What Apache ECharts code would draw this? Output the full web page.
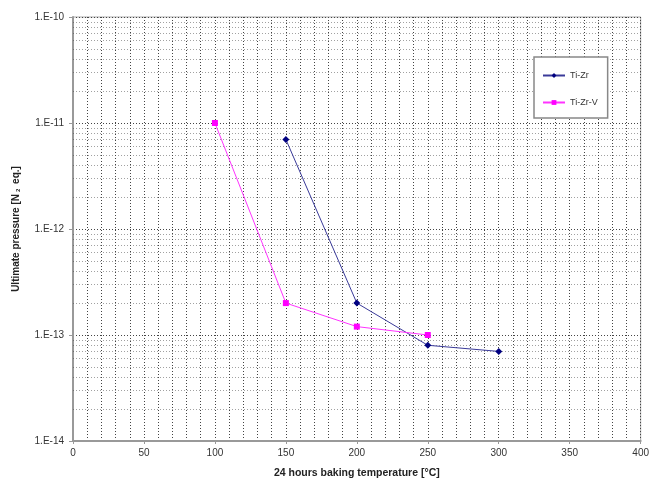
<!DOCTYPE html>
<html>
<head>
<meta charset="utf-8">
<script src="https://cdn.jsdelivr.net/npm/echarts@6/dist/echarts.min.js"></script>
<style>html,body{margin:0;padding:0;background:#fff}#c{width:652px;height:486px}</style>
</head>
<body>
<div id="c"></div>
<script>
const tiZrX = [150, 200, 250, 300];
const tiZrY = [7e-12, 2e-13, 8e-14, 7e-14];
const tiZrVX = [100, 150, 200, 250];
const tiZrVY = [1e-11, 2e-13, 1.2e-13, 1e-13];
const seriesNames = ['Ti-Zr', 'Ti-Zr-V'];
const decades = [-14, -13, -12, -11];
const minorMultipliers = [2, 3, 4, 5, 6, 7, 8, 9];
const xRange = [0, 400];

const minorY = [];
decades.forEach(d => minorMultipliers.forEach(m => minorY.push(m * Math.pow(10, d))));

const gridLine = { color: '#444', width: 1, type: [1, 2] };
const chart = echarts.init(document.getElementById('c'));
chart.setOption({
  animation: false,
  backgroundColor: '#fff',
  textStyle: { fontFamily: 'Liberation Sans, Arial, sans-serif' },
  grid: { left: 73, right: 8, top: 17, bottom: 45, show: true, borderColor: '#aaa', borderWidth: 1 },
  legend: {
    data: seriesNames,
    orient: 'vertical',
    left: 534, top: 57,
    width: 72,
    backgroundColor: '#fff',
    borderColor: '#888', borderWidth: 1.5,
    padding: [14, 10, 11, 8],
    itemGap: 18,
    itemWidth: 22, itemHeight: 6,
    textStyle: { fontSize: 9, color: '#333', fontFamily: 'Liberation Sans, Arial, sans-serif' }
  },
  xAxis: {
    type: 'value', min: xRange[0], max: xRange[1], interval: 50,
    name: '24 hours baking temperature [°C]',
    nameLocation: 'middle', nameGap: 27,
    nameTextStyle: { fontSize: 10.5, fontWeight: 'bold', color: '#222' },
    axisLine: { show: true, lineStyle: { color: '#999', width: 2 } },
    axisTick: { show: true, length: 3, lineStyle: { color: '#999' } },
    axisLabel: { fontSize: 10, color: '#333', margin: 7 },
    splitLine: { show: true, lineStyle: gridLine },
    minorTick: { show: false, splitNumber: 5 },
    minorSplitLine: { show: true, lineStyle: gridLine }
  },
  yAxis: {
    type: 'log', logBase: 10, min: 1e-14, max: 1e-10,
    name: 'Ultimate pressure [N{sub|2} eq.]',
    nameLocation: 'middle', nameGap: 52, nameRotate: 90,
    nameTextStyle: { fontSize: 10, fontWeight: 'bold', color: '#222',
      rich: { sub: { fontSize: 6, fontWeight: 'bold', color: '#222', verticalAlign: 'bottom', padding: [0, 2, 0, 2] } } },
    axisLine: { show: true, lineStyle: { color: '#999', width: 2 } },
    axisTick: { show: true, length: 4, lineStyle: { color: '#999' } },
    axisLabel: { fontSize: 10, color: '#333', margin: 9,
      formatter: v => '1.E' + Math.round(Math.log10(v)) },
    splitLine: { show: true, lineStyle: gridLine }
  },
  series: [
    {
      name: 'grid-minor', type: 'lines', coordinateSystem: 'cartesian2d', z: 1, silent: true,
      polyline: false,
      lineStyle: gridLine,
      data: minorY.map(v => ({ coords: [[xRange[0], v], [xRange[1], v]] }))
    },
    {
      name: 'Ti-Zr', type: 'line', z: 3,
      data: tiZrX.map((x, i) => [x, tiZrY[i]]),
      symbol: 'diamond', symbolSize: 7,
      itemStyle: { color: '#000080' },
      lineStyle: { color: '#3a3a99', width: 1 }
    },
    {
      name: 'Ti-Zr-V', type: 'line', z: 3,
      data: tiZrVX.map((x, i) => [x, tiZrVY[i]]),
      symbol: 'rect', symbolSize: 6,
      itemStyle: { color: '#ff00ff' },
      lineStyle: { color: '#ff33ff', width: 1 }
    }
  ]
});
</script>
</body>
</html>
